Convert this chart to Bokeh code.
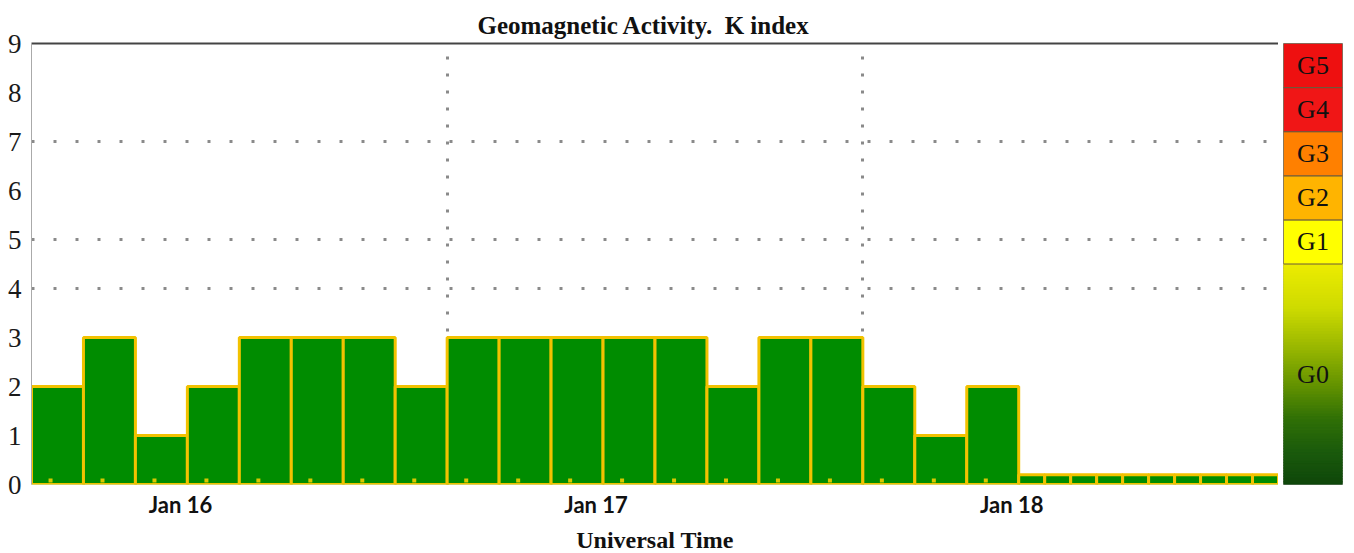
from bokeh.plotting import figure
from bokeh.models import FixedTicker, LinearAxis, Range1d, ColumnDataSource
from bokeh.layouts import row
from bokeh.embed import file_html
from bokeh.resources import INLINE
from bokeh.core.properties import value

# ---------------- data ----------------
day_labels = ["Jan 16", "Jan 17", "Jan 18"]
# 3-hour K index values (Jan 16 00 UT onwards)
k_3h = [2, 3, 1, 2, 3, 3, 3, 2,
        3, 3, 3, 3, 3, 2, 3, 3,
        2, 1, 2]
# later 1.5-hour estimated values (Jan 18, after 09 UT)
k_90min = [0.2, 0.2, 0.2, 0.2, 0.2, 0.2, 0.2, 0.2, 0.2, 0.2]
y_tick_values = [0, 1, 2, 3, 4, 5, 6, 7, 8, 9]
grid_k_levels = [4, 5, 7]
g_scale_labels = ["G0", "G1", "G2", "G3", "G4", "G5"]
g_scale_bounds = [0, 5, 6, 7, 8, 9, 10]
g_scale_colors = [None, "#FFFF00", "#FFB400", "#FF8000", "#F01616", "#EE1010"]

# ---------------- styling constants ----------------
HOURS_PER_DAY = 24
LABEL_OFFSET_H = 8.6
DOT_OFFSET_H = 1.1
BAR_GREEN = "#008C00"
BAR_EDGE = "#F2C200"

# ---------------- bar geometry from data ----------------
lefts, rights, tops = [], [], []
t = 0.0
for v in k_3h:
    lefts.append(t); rights.append(t + 3); tops.append(v); t += 3
for v in k_90min:
    lefts.append(t); rights.append(t + 1.5); tops.append(v); t += 1.5
bars = ColumnDataSource(dict(left=lefts, right=rights, top=tops))
dot_x = [l + DOT_OFFSET_H for l, r in zip(lefts, rights) if r - l == 3]
x_end = t

p = figure(width=1278, height=558, x_range=Range1d(0, x_end), y_range=Range1d(0, 9),
           output_backend="svg", toolbar_location=None,
           min_border_left=31, min_border_right=0, min_border_top=43, min_border_bottom=74)
p.outline_line_color = None
p.background_fill_color = "white"
p.border_fill_color = "white"

p.title.text = "Geomagnetic Activity.\u00a0 K index"
p.title.text_font = "Liberation Serif"
p.title.text_font_style = "bold"
p.title.text_font_size = "25px"
p.title.align = "left"
p.title.offset = 446
p.title.text_color = "#111111"

# grids
p.xgrid.ticker = FixedTicker(ticks=[HOURS_PER_DAY * i for i in range(1, len(day_labels))])
p.xgrid.grid_line_color = "#8a8a8a"
p.xgrid.grid_line_width = 3
p.xgrid.grid_line_dash = "3 14"
p.ygrid.ticker = FixedTicker(ticks=grid_k_levels)
p.ygrid.grid_line_color = "#8a8a8a"
p.ygrid.grid_line_width = 3
p.ygrid.grid_line_dash = "3 19"

p.quad(left="left", right="right", bottom=0, top="top", source=bars,
       fill_color=BAR_GREEN, line_color=BAR_EDGE, line_width=3)
p.scatter(x=dot_x, y=[0.08] * len(dot_x), marker="square", size=4,
          fill_color="#D8C800", line_color=None)

# y axis
p.yaxis.ticker = FixedTicker(ticks=y_tick_values)
p.yaxis.major_label_text_font = "Liberation Serif"
p.yaxis.major_label_text_font_size = "27px"
p.yaxis.major_label_text_color = "#1a1a1a"
p.yaxis.major_label_standoff = 10
p.yaxis.major_tick_out = 0
p.yaxis.major_tick_in = 0
p.yaxis.axis_line_color = "#aaaaaa"
p.yaxis.major_tick_line_color = None
p.yaxis.minor_tick_line_color = None

# x axis
x_ticks = [HOURS_PER_DAY * i + LABEL_OFFSET_H for i in range(len(day_labels))]
p.xaxis.ticker = FixedTicker(ticks=x_ticks)
p.xaxis.major_label_overrides = {tk: lab for tk, lab in zip(x_ticks, day_labels)}
p.xaxis.major_label_text_font = "Lato"
p.xaxis.major_label_text_font_style = "bold"
p.xaxis.major_label_text_font_size = "22px"
p.xaxis.major_label_text_color = "#111111"
p.xaxis.major_label_standoff = 0
p.xaxis.axis_line_color = None
p.xaxis.major_tick_line_color = None
p.xaxis.minor_tick_line_color = None
p.xaxis.axis_label = "Universal Time"
p.xaxis.axis_label_text_font = "Liberation Serif"
p.xaxis.axis_label_text_font_style = "bold"
p.xaxis.axis_label_text_font_size = "24px"
p.xaxis.axis_label_text_color = "#111111"
p.xaxis.axis_label_standoff = 6

top_axis = LinearAxis(ticker=FixedTicker(ticks=[]), axis_line_color="#444444",
                      axis_line_width=2, major_tick_line_color=None,
                      minor_tick_line_color=None)
p.add_layout(top_axis, "above")

# ---------------- G scale bar ----------------
c = figure(width=68, height=558, x_range=Range1d(0, 1), y_range=Range1d(0, 10),
           output_backend="svg", toolbar_location=None,
           min_border_left=5, min_border_right=4, min_border_top=40, min_border_bottom=74)
c.axis.visible = False
c.grid.visible = False
c.outline_line_color = "#555555"
c.outline_line_alpha = 0.6
c.border_fill_color = "white"

# gradient for G0 (style: colour stops from top to bottom)
stops = [(0.0, (236, 236, 0)), (0.2, (205, 218, 0)), (0.4, (145, 178, 0)),
         (0.55, (98, 146, 0)), (0.7, (48, 112, 6)), (0.85, (26, 90, 12)),
         (1.0, (14, 70, 10))]

def grad(f):
    for (f0, c0), (f1, c1) in zip(stops[:-1], stops[1:]):
        if f0 <= f <= f1:
            u = (f - f0) / (f1 - f0)
            return "#%02x%02x%02x" % tuple(int(round(a + (b - a) * u)) for a, b in zip(c0, c1))
    return "#%02x%02x%02x" % stops[-1][1]

g0_lo, g0_hi = g_scale_bounds[0], g_scale_bounds[1]
n = 80
step = (g0_hi - g0_lo) / n
gb = [g0_lo + i * step for i in range(n)]
gcols = [grad(1 - (b + step / 2 - g0_lo) / (g0_hi - g0_lo)) for b in gb]
c.quad(left=0, right=1, bottom=gb, top=[b + step for b in gb],
       fill_color=gcols, line_color=gcols, line_width=1.5)
c.quad(left=0, right=1, bottom=g_scale_bounds[1:-1], top=g_scale_bounds[2:],
       fill_color=g_scale_colors[1:], line_color="#6b5b3b", line_width=1)
centers = [(a + b) / 2 for a, b in zip(g_scale_bounds[:-1], g_scale_bounds[1:])]
c.text(x=[0.5] * len(centers), y=centers, text=g_scale_labels,
       text_font=value("Liberation Serif"), text_font_size="26px",
       text_align="center", text_baseline="middle", text_color="#111111")

layout = row(p, c)
open("out.html", "w").write(file_html(layout, INLINE))
